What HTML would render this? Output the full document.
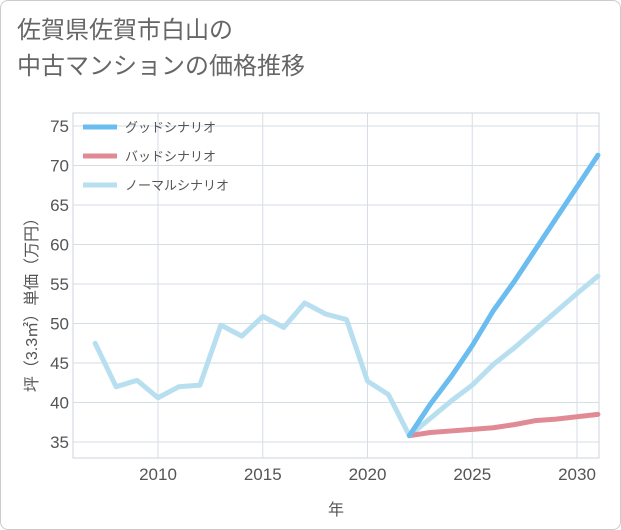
<!DOCTYPE html>
<html><head><meta charset="utf-8"><style>
body{margin:0;background:#fff;}
#card{position:absolute;left:0;top:0;width:619px;height:528px;border:1px solid #ccc;border-radius:8px;background:#fff;overflow:hidden;}
#title{position:absolute;left:16px;top:12px;font:24px "Liberation Sans","Noto Sans CJK JP",sans-serif;color:#666;line-height:36px;}
svg text{font-family:"Liberation Sans","Noto Sans CJK JP",sans-serif;}
</style></head><body>
<div id="card">
<div id="title">佐賀県佐賀市白山の<br>中古マンションの価格推移</div>
<svg id="chart" width="621" height="530" style="position:absolute;left:0;top:0"></svg>
</div>
<script>
const yearsHist=[2007,2008,2009,2010,2011,2012,2013,2014,2015,2016,2017,2018,2019,2020,2021,2022];
const valuesHist=[47.5,42,42.8,40.6,42,42.2,49.8,48.4,50.9,49.5,52.6,51.2,50.5,42.7,41,35.8];
const yearsProj=[2022,2023,2024,2025,2026,2027,2028,2029,2030,2031];
const valuesGood=[35.8,39.8,43.3,47.2,51.6,55.3,59.3,63.3,67.3,71.3];
const valuesBad=[35.8,36.2,36.4,36.6,36.8,37.2,37.7,37.9,38.2,38.5];
const valuesNormal=[35.8,38,40.2,42.2,44.8,46.9,49.2,51.5,53.8,56];
const yTicks=[35,40,45,50,55,60,65,70,75];
const xTicks=[2010,2015,2020,2025,2030];
const legendLabels=["グッドシナリオ","バッドシナリオ","ノーマルシナリオ"];

const L=72,R=598,T=112,B=457;
const xs=y=>157+(y-2010)*20.95;
const ys=v=>441-(v-35)*7.9;
const svg=document.getElementById('chart');
const NS='http://www.w3.org/2000/svg';
function mk(t,a){const e=document.createElementNS(NS,t);for(const k in a)e.setAttribute(k,a[k]);svg.appendChild(e);return e;}
let r=mk('rect',{x:L,y:T,width:R-L,height:B-T,fill:'none',stroke:'#ccd4dc'});


for(const t of yTicks){
 const l=mk('line',{x1:L,x2:R,y1:ys(t),y2:ys(t),stroke:'#d5dde5'});
 
 
 const tx=mk('text',{x:L-4,y:ys(t)+6,'text-anchor':'end','font-size':17,fill:'#555'});tx.textContent=t;
 
 
}
for(const t of xTicks){
 const l=mk('line',{x1:xs(t),x2:xs(t),y1:T,y2:B,stroke:'#d5dde5'});
 
 
 const tx=mk('text',{x:xs(t),y:B+22,'text-anchor':'middle','font-size':17,fill:'#555'});tx.textContent=t;
 
 
}
let xt=mk('text',{x:335,y:514,'text-anchor':'middle','font-size':16,fill:'#555'});xt.textContent='年';


let yt=mk('text',{x:0,y:0,'text-anchor':'middle','font-size':16,fill:'#555',transform:'translate(36,300) rotate(-90)'});yt.textContent='坪（3.3㎡）単価（万円）';


function line(xv,yv,c,name){
 const p=mk('polyline',{points:xv.map((x,i)=>xs(x)+','+ys(yv[i])).join(' '),fill:'none',stroke:c,'stroke-width':5,'stroke-linejoin':'round','stroke-linecap':'round'});
 
 
}
line(yearsHist,valuesHist,'#b8dff0','history-line');
line(yearsProj,valuesNormal,'#b8dff0','normal-line');
line(yearsProj,valuesBad,'#e08b93','bad-line');
line(yearsProj,valuesGood,'#6bbcef','good-line');
const lc=['#6bbcef','#e08b93','#b8dff0'];
legendLabels.forEach((s,i)=>{
 const y=126+i*29;
 const l=mk('line',{x1:82,x2:116,y1:y,y2:y,stroke:lc[i],'stroke-width':5});
 
 
 const tx=mk('text',{x:124,y:y+5,'font-size':13,fill:'#555'});tx.textContent=s;
 
 
});
</script>
</body></html>
